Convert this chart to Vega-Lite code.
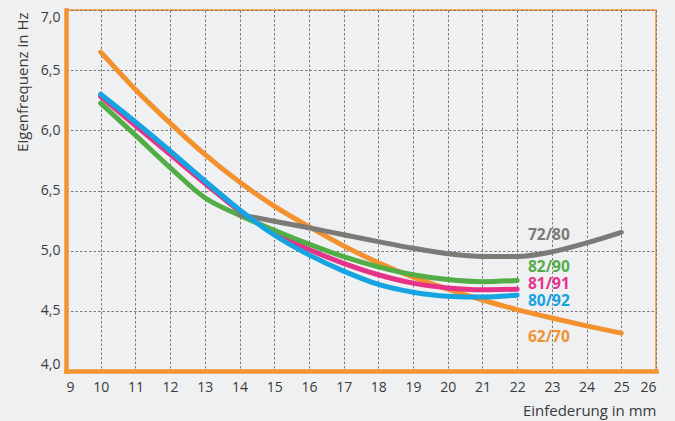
{
  "$schema": "https://vega.github.io/schema/vega-lite/v6.json",
  "autosize": {"type": "none"},
  "padding": {"left": 66, "top": 10, "right": 19, "bottom": 50},
  "width": 590,
  "height": 361,
  "background": "#eef0f2",
  "config": {
    "view": {"stroke": "#f39332", "strokeWidth": 1.5},
    "axis": {
      "labelFont": "Open Sans",
      "labelFontSize": 14,
      "labelColor": "#3a3a3a",
      "titleFont": "Open Sans",
      "titleFontSize": 15,
      "titleFontWeight": "normal",
      "titleColor": "#3a3a3a",
      "ticks": false,
      "grid": true,
      "gridColor": "#7a7a7a",
      "gridDash": [2.5, 2],
      "gridWidth": 1,
      "domainColor": "#f39332",
      "domainWidth": 4.5,
      "domainCap": "square"
    }
  },
  "datasets": {
    "curves": [
      {"series": "62/70", "x": 10, "y": 6.65},
      {"series": "62/70", "x": 11, "y": 6.34},
      {"series": "62/70", "x": 12, "y": 6.06},
      {"series": "62/70", "x": 13, "y": 5.8},
      {"series": "62/70", "x": 14, "y": 5.57},
      {"series": "62/70", "x": 15, "y": 5.37},
      {"series": "62/70", "x": 16, "y": 5.2},
      {"series": "62/70", "x": 17, "y": 5.04},
      {"series": "62/70", "x": 18, "y": 4.9},
      {"series": "62/70", "x": 19, "y": 4.78},
      {"series": "62/70", "x": 20, "y": 4.68},
      {"series": "62/70", "x": 21, "y": 4.59},
      {"series": "62/70", "x": 22, "y": 4.51},
      {"series": "62/70", "x": 23, "y": 4.44},
      {"series": "62/70", "x": 24, "y": 4.375},
      {"series": "62/70", "x": 25, "y": 4.315},
      {"series": "81/91", "x": 10, "y": 6.28},
      {"series": "81/91", "x": 11, "y": 6.04},
      {"series": "81/91", "x": 12, "y": 5.8},
      {"series": "81/91", "x": 13, "y": 5.56},
      {"series": "81/91", "x": 14, "y": 5.33},
      {"series": "81/91", "x": 15, "y": 5.15},
      {"series": "81/91", "x": 16, "y": 5.01},
      {"series": "81/91", "x": 17, "y": 4.895},
      {"series": "81/91", "x": 18, "y": 4.8},
      {"series": "81/91", "x": 19, "y": 4.73},
      {"series": "81/91", "x": 20, "y": 4.69},
      {"series": "81/91", "x": 21, "y": 4.675},
      {"series": "81/91", "x": 22, "y": 4.68},
      {"series": "82/90", "x": 10, "y": 6.225},
      {"series": "82/90", "x": 11, "y": 5.96},
      {"series": "82/90", "x": 12, "y": 5.69},
      {"series": "82/90", "x": 13, "y": 5.44},
      {"series": "82/90", "x": 14, "y": 5.295},
      {"series": "82/90", "x": 15, "y": 5.17},
      {"series": "82/90", "x": 16, "y": 5.055},
      {"series": "82/90", "x": 17, "y": 4.95},
      {"series": "82/90", "x": 18, "y": 4.865},
      {"series": "82/90", "x": 19, "y": 4.8},
      {"series": "82/90", "x": 20, "y": 4.76},
      {"series": "82/90", "x": 21, "y": 4.742},
      {"series": "82/90", "x": 22, "y": 4.752},
      {"series": "72/80", "x": 14, "y": 5.3},
      {"series": "72/80", "x": 15, "y": 5.245},
      {"series": "72/80", "x": 16, "y": 5.19},
      {"series": "72/80", "x": 17, "y": 5.132},
      {"series": "72/80", "x": 18, "y": 5.075},
      {"series": "72/80", "x": 19, "y": 5.02},
      {"series": "72/80", "x": 20, "y": 4.975},
      {"series": "72/80", "x": 21, "y": 4.952},
      {"series": "72/80", "x": 22, "y": 4.952},
      {"series": "72/80", "x": 23, "y": 4.99},
      {"series": "72/80", "x": 24, "y": 5.065},
      {"series": "72/80", "x": 25, "y": 5.153},
      {"series": "80/92", "x": 10, "y": 6.3},
      {"series": "80/92", "x": 11, "y": 6.07},
      {"series": "80/92", "x": 12, "y": 5.83},
      {"series": "80/92", "x": 13, "y": 5.58},
      {"series": "80/92", "x": 14, "y": 5.34},
      {"series": "80/92", "x": 15, "y": 5.13},
      {"series": "80/92", "x": 16, "y": 4.965},
      {"series": "80/92", "x": 17, "y": 4.83},
      {"series": "80/92", "x": 18, "y": 4.72},
      {"series": "80/92", "x": 19, "y": 4.655},
      {"series": "80/92", "x": 20, "y": 4.622},
      {"series": "80/92", "x": 21, "y": 4.615},
      {"series": "80/92", "x": 22, "y": 4.63}
    ],
    "labels": [
      {"series": "72/80", "x": 22.31, "y": 5.13},
      {"series": "82/90", "x": 22.31, "y": 4.862},
      {"series": "81/91", "x": 22.31, "y": 4.72},
      {"series": "80/92", "x": 22.31, "y": 4.578},
      {"series": "62/70", "x": 22.31, "y": 4.28}
    ]
  },
  "encoding": {
    "x": {
      "field": "x",
      "type": "quantitative",
      "scale": {"domain": [9, 26], "nice": false, "zero": false},
      "axis": {
        "values": [9, 10, 11, 12, 13, 14, 15, 16, 17, 18, 19, 20, 21, 22, 23, 24, 25, 26],
        "labelFlush": true,
        "labelPadding": 9,
        "title": "Einfederung in mm",
        "titleAnchor": "end",
        "titleAlign": "right",
        "titleX": 590,
        "titleY": 39,
        "titleBaseline": "middle"
      }
    },
    "y": {
      "field": "y",
      "type": "quantitative",
      "scale": {"domain": [4, 7], "nice": false, "zero": false},
      "axis": {
        "values": [4, 4.5, 5, 5.5, 6, 6.5, 7],
        "labelExpr": "datum.value == 5.5 ? '6,5' : replace(format(datum.value, '.1f'), '.', ',')",
        "labelFlush": true,
        "labelPadding": 6,
        "title": "Eigenfrequenz in Hz",
        "titleAngle": -90,
        "titleAlign": "right",
        "titleBaseline": "middle",
        "titleX": -44,
        "titleY": 2
      }
    },
    "color": {
      "field": "series",
      "type": "nominal",
      "scale": {
        "domain": ["62/70", "81/91", "82/90", "72/80", "80/92"],
        "range": ["#f3912e", "#e6338a", "#52ad47", "#7c7a77", "#15a3e1"]
      },
      "legend": null
    }
  },
  "layer": [
    {
      "data": {"name": "curves"},
      "mark": {"type": "line", "interpolate": "monotone", "strokeWidth": 5, "strokeCap": "round", "strokeJoin": "round"}
    },
    {
      "data": {"name": "labels"},
      "mark": {"type": "text", "align": "left", "baseline": "middle", "font": "Open Sans", "fontSize": 15.5, "fontWeight": "bold"},
      "encoding": {"text": {"field": "series", "type": "nominal"}}
    }
  ]
}
